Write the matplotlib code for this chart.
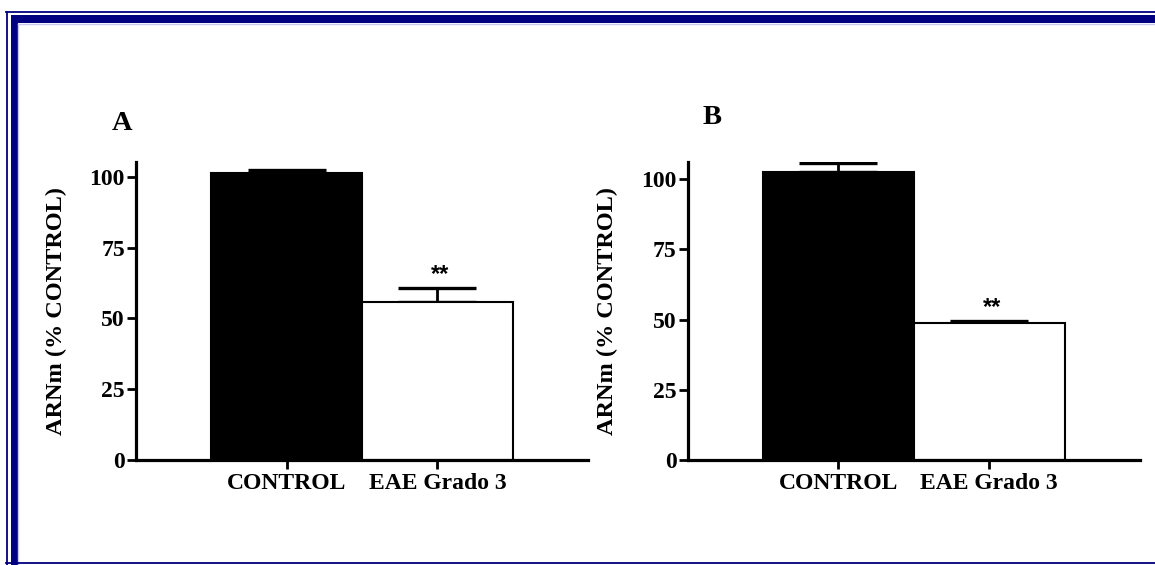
import matplotlib.pyplot as plt
from matplotlib.patches import Rectangle
from matplotlib.lines import Line2D

# Datos: ARNm relativo al control (%), media y error (SEM, sólo hacia arriba)
grupos = ["CONTROL", "EAE Grado 3"]
media_a = [101.2, 55.7]
error_a = [1.0, 4.9]
media_b = [102.6, 48.7]
error_b = [3.3, 0.8]
significancia = ["", "**"]

W, H = 1155, 565
fig = plt.figure(figsize=(W / 100, H / 100), dpi=100)
fig.patch.set_facecolor("white")

serif = "Liberation Serif"
navy = "#000080"


def px(x, y):
    # pixeles (origen arriba-izquierda) -> fraccion de figura
    return x / W, 1 - y / H


# Marco azul de la pagina
for (x0, y0, x1, y1) in [(10.5, 15, W, 23), (10.5, 15, 17.5, H)]:
    fx0, fy1 = px(x0, y0)
    fx1, fy0 = px(x1, y1)
    fig.add_artist(Rectangle((fx0, fy0), fx1 - fx0, fy1 - fy0,
                             transform=fig.transFigure, facecolor=navy,
                             edgecolor="none"))
lineas = [((6, W), (12.3, 12.3), navy, 1.3),
          ((6.5, 6.5), (12.3, H), navy, 1.3),
          ((17.5, W), (23.8, 23.8), "#c8c8f0", 1.0),
          ((18.3, 18.3), (23.8, H), "#c8c8f0", 1.0),
          ((6, W), (563, 563), navy, 1.3)]
for xs, ys, c, lw in lineas:
    fig.add_artist(Line2D([x / W for x in xs], [1 - y / H for y in ys],
                          transform=fig.transFigure, color=c, lw=lw))


def panel(rect, medias, errores, ymax, letra, letra_pos):
    ax = fig.add_axes(rect)
    x = [0, 1]
    ax.bar(x, medias, width=1.0, color=["black", "white"],
           edgecolor="black", linewidth=1.5, zorder=2)
    ax.errorbar(x, medias, yerr=[[0, 0], errores], fmt="none",
                ecolor="black", elinewidth=2.0, capsize=28, capthick=2.4,
                zorder=1)
    for xi, m, e, s in zip(x, medias, errores, significancia):
        if s:
            ax.annotate(s, (xi, m + e), xytext=(2, 1.5),
                        textcoords="offset points", ha="center", va="bottom",
                        fontsize=17, fontweight="bold",
                        family="Liberation Sans")
    ax.set_xlim(-1, 2)
    ax.set_ylim(0, ymax)
    ax.set_yticks([0, 25, 50, 75, 100])
    ax.set_xticks(x)
    ax.set_xticklabels(grupos)
    for sp in ["top", "right"]:
        ax.spines[sp].set_visible(False)
    for sp in ["left", "bottom"]:
        ax.spines[sp].set_linewidth(2.3)
    ax.tick_params(axis="both", width=2.0, length=6.5, labelsize=17)
    ax.tick_params(axis="y", pad=1.5)
    ax.tick_params(axis="x", pad=3)
    for t in ax.get_xticklabels() + ax.get_yticklabels():
        t.set_family(serif)
        t.set_fontweight("bold")
    ax.set_ylabel("ARNm (% CONTROL)", family=serif, fontweight="bold",
                  fontsize=17.5)
    ax.yaxis.set_label_coords(-0.153, 0.5)
    fig.text(*px(*letra_pos), letra, family=serif, fontweight="bold",
             fontsize=20.5, ha="center", va="center")
    return ax


panel([136 / W, 1 - 460 / H, 452 / W, 298 / H], media_a, error_a, 105.2,
      "A", (122, 123))
panel([687.7 / W, 1 - 460 / H, 452.3 / W, 298.3 / H], media_b, error_b, 106.2,
      "B", (712, 117))

fig.savefig("out.png", dpi=100, facecolor="white")
